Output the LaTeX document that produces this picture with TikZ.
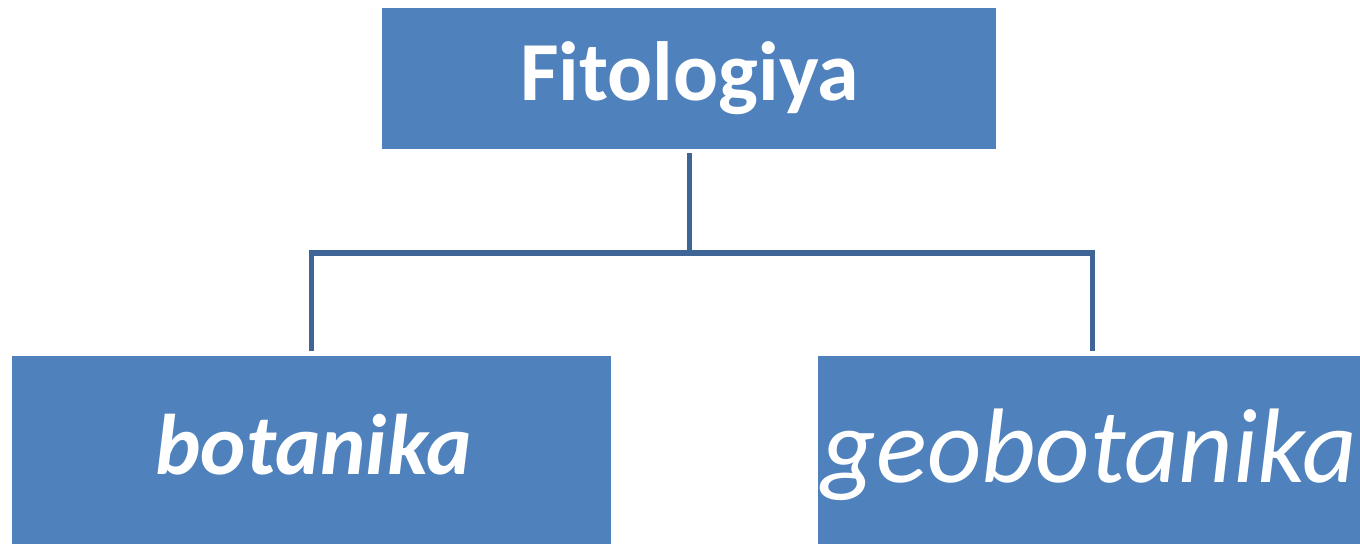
\documentclass[tikz,border=0pt]{standalone}
\usepackage{fontspec}
\setmainfont{Carlito}
\definecolor{boxblue}{HTML}{4F81BD}
\definecolor{lineblue}{HTML}{3E6595}
\begin{document}
\begin{tikzpicture}[x=1bp,y=-1bp,
  box/.style={fill=boxblue, draw=none, inner sep=0pt, outer sep=0pt},
  conn/.style={draw=lineblue, line width=5bp},
  lbl/.style={text=white, inner sep=0pt, anchor=base}]
\useasboundingbox (0,0) rectangle (1360,544);
\clip (0,0) rectangle (1360,544);
\node[box, minimum width=614bp, minimum height=141bp] (top) at (689,78.5) {};
\node[box, minimum width=599bp, minimum height=220bp] (left) at (311.5,466) {};
\node[box, minimum width=543bp, minimum height=220bp] (right) at (1089.5,466) {};
\node[lbl, font=\fontsize{84bp}{100bp}\selectfont\bfseries] (t1) at (689.5,101) {Fitologiya};
\node[lbl, font=\fontsize{86bp}{100bp}\selectfont\bfseries\itshape] (t2) at (313.5,474) {botanika};
\node[lbl, font=\fontsize{106bp}{120bp}\selectfont\itshape] (t3) at (1089.5,482) {geobotanika};
\coordinate (j) at (689,253);
\draw[conn] ([yshift=-4bp]top.south) -- (top.south |- j);
\draw[conn] ([yshift=5bp]left.north) |- (j) -| ([xshift=3bp,yshift=5bp]right.north);
\end{tikzpicture}
\end{document}
